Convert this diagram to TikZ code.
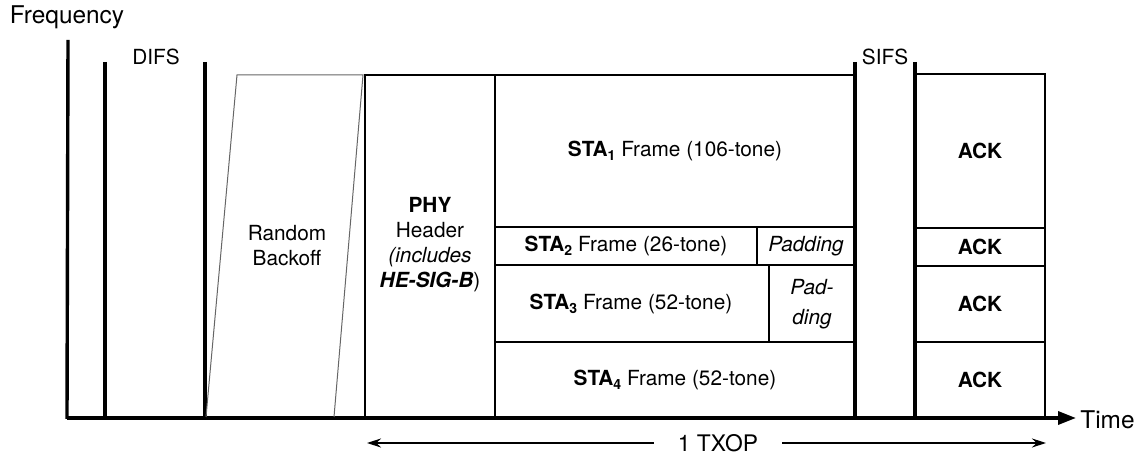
\documentclass[tikz,border=0pt]{standalone}
\usepackage{fontspec}
\setmainfont{TeX Gyre Heros}
\usetikzlibrary{arrows.meta}
\newcommand{\lowsub}[1]{\raisebox{-0.35ex}{\fontsize{7}{8}\selectfont #1}}
\begin{document}
\begin{tikzpicture}[x=0.5pt,y=-0.5pt,
  axis/.style={line width=1.7pt},
  gap/.style={line width=1.6pt},
  boxline/.style={line width=1.2pt},
  divline/.style={line width=1pt},
  slant/.style={line width=0.5pt, draw=black!60},
  lbl/.style={font=\fontsize{10.4}{12.5}\selectfont, align=center, inner sep=0pt},
  axlbl/.style={font=\fontsize{12.2}{14}\selectfont, inner sep=0pt},
]
\useasboundingbox (0,0) rectangle (1142,458);
% axes
\coordinate (yTop) at (68,40);
\coordinate (orig) at (67,418);
\coordinate (xEnd) at (1076,418);
\draw[axis] (yTop) -- (orig |- 0,419);
\draw[axis, -{Triangle[length=9pt,width=6.5pt]}] (orig) -- (xEnd);
\node[axlbl] (freq) at (67,17) {Frequency};
\node[axlbl, anchor=west] (time) at (1080,420) {Time};
% DIFS
\coordinate (d1t) at (105,62); \coordinate (d1b) at (105,418);
\coordinate (d2t) at (205,62); \coordinate (d2b) at (205,418);
\draw[gap] (d1t) -- (d1b);
\draw[gap] (d2t) -- (d2b);
\node[lbl] (difs) at (156,57) {DIFS};
% random backoff
\coordinate (rb1) at (206,417); \coordinate (rb2) at (237,75);
\coordinate (rb3) at (363,75); \coordinate (rb4) at (334,417);
\draw[slant] (rb1) -- (rb2) -- (rb3) -- (rb4);
\node[lbl] (rbo) at (287,246) {Random\\Backoff};
% PHY header
\draw[boxline] (365,75) rectangle (495,417);
\node[lbl] (phy) at (430,245) {\textbf{PHY}\\Header\\\textit{(includes}\\\textit{\textbf{HE-SIG-B}})};
% frames
\draw[boxline] (495,75) rectangle (855,417);
\draw[divline] (495,227) -- (855,227);
\draw[divline] (495,265) -- (855,265);
\draw[divline] (495,342) -- (855,342);
\draw[divline] (757,227) -- (757,265);
\draw[divline] (769,265) -- (769,342);
\node[lbl] (sta1) at (675,151) {\textbf{STA\lowsub{1}} Frame (106-tone)};
\node[lbl] (sta2) at (626,246) {\textbf{STA\lowsub{2}} Frame (26-tone)};
\node[lbl] (pad2) at (806,246) {\textit{Padding}};
\node[lbl] (sta3) at (631,304) {\textbf{STA\lowsub{3}} Frame (52-tone)};
\node[lbl, font=\fontsize{10.4}{15}\selectfont] (pad3) at (812,304) {\textit{Pad-}\\\textit{ding}};
\node[lbl] (sta4) at (675,380) {\textbf{STA\lowsub{4}} Frame (52-tone)};
% SIFS
\draw[gap] (855,62) -- (855,418);
\draw[gap] (915,62) -- (915,418);
\node[lbl] (sifs) at (885,57) {SIFS};
% ACKs
\draw[boxline] (915,74) rectangle (1045,418);
\draw[divline] (915,228) -- (1045,228);
\draw[divline] (915,266) -- (1045,266);
\draw[divline] (915,342) -- (1045,342);
\node[lbl] (ack1) at (980,151) {\textbf{ACK}};
\node[lbl] (ack2) at (980,247) {\textbf{ACK}};
\node[lbl] (ack3) at (980,304) {\textbf{ACK}};
\node[lbl] (ack4) at (980,380) {\textbf{ACK}};
% TXOP
\coordinate (txl) at (367,443);
\coordinate (txr) at (1046,443);
\node[font=\fontsize{11.4}{13}\selectfont, fill=white, inner xsep=12pt, inner ysep=1pt] (txop) at (718,443) {1 TXOP};
\draw[line width=0.6pt, -{Stealth[length=7pt,width=4.5pt]}] (txop.west) -- (txl);
\draw[line width=0.6pt, -{Stealth[length=7pt,width=4.5pt]}] (txop.east) -- (txr);
\end{tikzpicture}
\end{document}
